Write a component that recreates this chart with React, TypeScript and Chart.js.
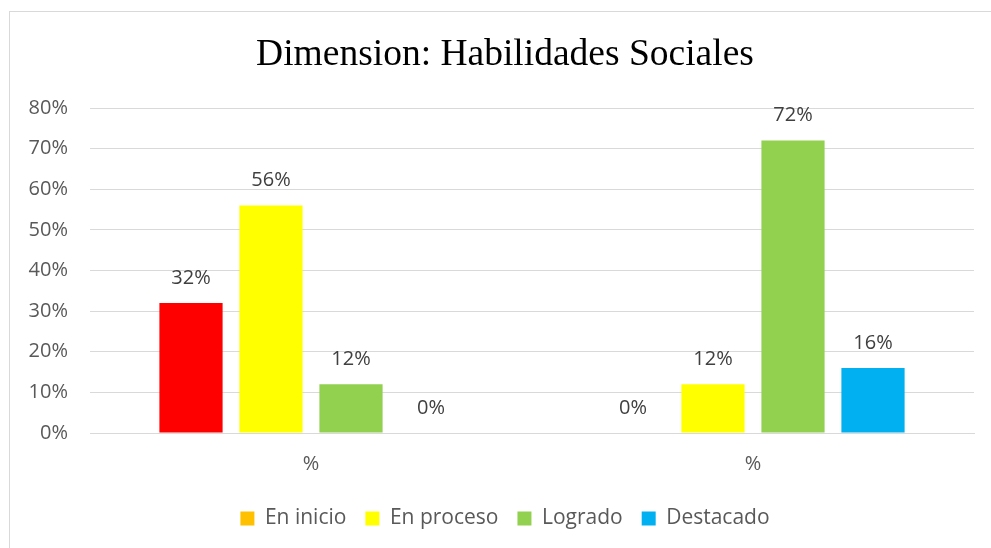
import React, { useEffect, useRef } from "react";
import { Chart, registerables } from "chart.js";

Chart.register(...registerables);

const categories = ["%", "%"];
const seriesNames = ["En inicio", "En proceso", "Logrado", "Destacado"];
const enInicio = [32, 0];
const enProceso = [56, 12];
const logrado = [12, 72];
const destacado = [0, 16];
const yTicks = [0, 10, 20, 30, 40, 50, 60, 70, 80];

const FONT = "'Open Sans', 'Liberation Sans', sans-serif";

const valueLabels = {
  id: "valueLabels",
  afterDatasetsDraw(chart: any) {
    const ctx = chart.ctx;
    ctx.save();
    ctx.font = `20px ${FONT}`;
    ctx.fillStyle = "#404040";
    ctx.textAlign = "center";
    ctx.textBaseline = "middle";
    chart.data.datasets.forEach((ds: any, i: number) => {
      const meta = chart.getDatasetMeta(i);
      meta.data.forEach((el: any, j: number) => {
        ctx.fillText(`${ds.data[j]}%`, el.x, el.y - 25);
      });
    });
    ctx.restore();
  },
};

export default function App() {
  const ref = useRef<HTMLCanvasElement | null>(null);
  useEffect(() => {
    if (!ref.current) return;
    const chart = new Chart(ref.current, {
      type: "bar",
      data: {
        labels: categories,
        datasets: [
          { label: seriesNames[0], data: enInicio, backgroundColor: ["#FF0000", "#FFC000"] },
          { label: seriesNames[1], data: enProceso, backgroundColor: "#FFFF00" },
          { label: seriesNames[2], data: logrado, backgroundColor: "#92D050" },
          { label: seriesNames[3], data: destacado, backgroundColor: "#00B0F0" },
        ],
      },
      options: {
        animation: false,
        responsive: false,
        maintainAspectRatio: false,
        layout: { padding: { left: 0, right: 0, top: 0, bottom: 9 } },
        datasets: { bar: { categoryPercentage: 0.724, barPercentage: 0.79 } },
        plugins: {
          title: {
            display: true,
            text: "Dimension: Habilidades Sociales",
            color: "#000000",
            font: { family: "'Liberation Serif', 'Times New Roman', serif", size: 37.5, weight: "normal", lineHeight: 1.2 },
            padding: { top: 22, bottom: 30 },
          },
          legend: {
            position: "bottom",
            labels: {
              color: "#595959",
              font: { family: FONT, size: 21 },
              boxWidth: 14,
              boxHeight: 14,
              padding: 19,
              generateLabels(chart: any) {
                const items = Chart.defaults.plugins.legend.labels.generateLabels(chart);
                const colors = ["#FFC000", "#FFFF00", "#92D050", "#00B0F0"];
                return items.map((it: any, i: number) => ({
                  ...it,
                  fillStyle: colors[i],
                  strokeStyle: colors[i],
                  lineWidth: 0,
                }));
              },
            },
          },
          tooltip: { enabled: false },
        },
        scales: {
          x: {
            grid: { display: false, drawTicks: false },
            border: { display: true, color: "#D9D9D9", width: 1 },
            ticks: { color: "#595959", font: { family: FONT, size: 20 }, padding: 19 },
            afterFit(scale: any) {
              scale.height = 56;
            },
          },
          y: {
            min: 0,
            max: 80,
            afterFit(scale: any) {
              scale.width = 81;
            },
            afterBuildTicks(scale: any) {
              scale.ticks = yTicks.map((v) => ({ value: v }));
            },
            grid: { color: "#D9D9D9", lineWidth: 1, drawTicks: false },
            border: { display: false },
            ticks: {
              color: "#595959",
              font: { family: FONT, size: 20 },
              padding: 22,
              callback: (v: any) => `${v}%`,
            },
          },
          yRightSpace: {
            type: "linear",
            position: "right",
            display: true,
            grid: { display: false, drawTicks: false },
            border: { display: false },
            ticks: { display: false },
            afterFit(scale: any) {
              scale.width = 27;
            },
          },
        },
      },
      plugins: [valueLabels],
    });
    return () => chart.destroy();
  }, []);

  return (
    <div style={{ position: "fixed", left: 0, top: 0, width: 991, height: 548, overflow: "hidden", background: "#fff" }}>
      <div
        style={{
          position: "absolute",
          left: 9,
          top: 11,
          width: 1100,
          height: 700,
          borderLeft: "1px solid #D9D9D9",
          borderTop: "1px solid #D9D9D9",
        }}
      />
      <canvas
        ref={ref}
        width={992}
        height={537}
        style={{ position: "absolute", left: 9, top: 11, width: 992, height: 537 }}
      />
    </div>
  );
}
